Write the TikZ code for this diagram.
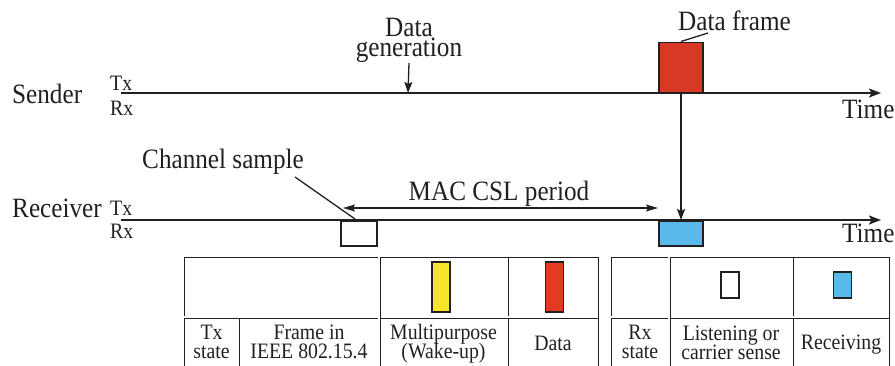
\documentclass[tikz,border=0pt]{standalone}
\usepackage{fontspec}
\setmainfont{Liberation Serif}[FakeStretch=0.9]
\usetikzlibrary{arrows.meta,positioning,calc}
\definecolor{ink}{RGB}{35,31,32}
\definecolor{framered}{RGB}{216,57,36}
\definecolor{keyred}{RGB}{228,58,34}
\definecolor{rxblue}{RGB}{91,184,234}
\definecolor{wakeyellow}{RGB}{246,228,46}
\lineskiplimit=-20pt
\tikzset{
	big/.style={inner sep=0pt, text=ink, font=\fontsize{28}{20}\selectfont},
	small/.style={inner sep=0pt, text=ink, align=center, font=\fontsize{22}{19}\selectfont},
	timeline/.style={draw=ink, line width=1.6pt, -{Stealth[length=12pt,width=9pt,inset=2.5pt]}},
	conn/.style={draw=ink, line width=1.3pt, -{Stealth[length=11pt,width=8pt,inset=2pt]}},
	period/.style={draw=ink, line width=1.3pt, {Stealth[length=12pt,width=7pt,inset=2pt]}-{Stealth[length=12pt,width=7pt,inset=2pt]}},
	lead/.style={draw=ink, line width=1.3pt},
	slot/.style={draw=ink, line width=1.5pt, inner sep=0pt, minimum width=44pt, minimum height=25pt},
	key/.style={draw=ink, line width=1.3pt, inner sep=0pt, minimum width=18pt},
	grid/.style={draw=ink, line width=1pt},
	dgrid/.style={draw=ink, line width=0.7pt, double, double distance=1.6pt}
}

\begin{document}
\begin{tikzpicture}[x=1pt, y=-1pt]
	\useasboundingbox (0,0) rectangle (895,365);

	% sender
	\node[big, anchor=base west] (snd) at (12,103) {Sender};
	\node[small, anchor=base west] (snd-tx) at (110,90) {Tx};
	\node[small, anchor=base west] (snd-rx) at (110,115) {Rx};
	\coordinate (snd-0) at (121,93);
	\coordinate (snd-1) at (881,93);
	\draw[timeline] (snd-0) -- (snd-1);
	\node[big, anchor=base west] (snd-time) at (842,118) {Time};
	\node[slot, fill=framered, minimum height=50pt, anchor=south] (frame) at (681,93) {};
	\node[big, anchor=base west] (dframe) at (678,30) {Data frame};
	\coordinate (dframe-l) at (708,33);
	\draw[lead] (frame.north) -- (dframe-l);
	\node[big, align=center, anchor=south] (gen) at (409,63) {Data\\generation};
	\coordinate (gen-t) at (408,93);
	\draw[conn] (gen.south) -- (gen-t);

	% receiver
	\node[big, anchor=base west] (rcv) at (12,217) {Receiver};
	\node[small, anchor=base west] (rcv-tx) at (110,215) {Tx};
	\node[small, anchor=base west] (rcv-rx) at (110,238) {Rx};
	\coordinate (rcv-0) at (121,220);
	\coordinate (rcv-1) at (881,220);
	\draw[timeline] (rcv-0) -- (rcv-1);
	\node[big, anchor=base west] (rcv-time) at (842,242) {Time};
	\node[slot, fill=white, minimum width=36pt, anchor=north] (sample) at (359,220) {};
	\node[slot, fill=rxblue, anchor=north] (rxbox) at (681,220) {};
	\node[big, anchor=base west] (chan) at (142,168) {Channel sample};
	\coordinate (chan-a) at (295,177);
	\coordinate (chan-b) at (355,219);
	\draw[lead] (chan-a) -- (chan-b);
	\coordinate (csl-a) at (343,208);
	\coordinate (csl-b) at (658,208);
	\draw[period] (csl-a) -- (csl-b);
	\node[big, anchor=base] (csl) at (499,200) {MAC CSL period};
	\draw[conn] (frame.south) -- (rxbox.north);

	% legend, Tx side
	\draw[grid] (184,366) -- (184,257) -- (598,257) -- (598,366);
	\draw[grid] (508,257) -- (508,366);
	\draw[grid] (239,317) -- (239,366);
	\draw[dgrid] (184,317) -- (598,317);
	\draw[dgrid] (379,257) -- (379,366);
	\node[key, fill=wakeyellow, minimum height=50pt] (k-wake) at (441,287) {};
	\node[key, fill=keyred, minimum height=50pt] (k-data) at (554.5,287) {};
	\node[small] (t-tx) at (211.5,342) {Tx\\state};
	\node[small] (t-frame) at (309,342) {Frame in\\IEEE 802.15.4};
	\node[small] (t-wake) at (443.5,344) {Multipurpose\\(Wake-up)};
	\node[small] (t-data) at (553,343) {Data};

	% legend, Rx side
	\draw[grid] (611,366) -- (611,257) -- (889,257) -- (889,366);
	\draw[grid] (793,257) -- (793,366);
	\draw[dgrid] (611,317) -- (889,317);
	\draw[dgrid] (669,257) -- (669,366);
	\node[key, fill=white, minimum height=26pt] (k-listen) at (730,285) {};
	\node[key, fill=rxblue, minimum height=26pt] (k-recv) at (842.5,285) {};
	\node[small] (t-rx) at (640,342) {Rx\\state};
	\node[small] (t-listen) at (731,343) {Listening or\\carrier sense};
	\node[small] (t-recv) at (841,345) {Receiving};
\end{tikzpicture}
\end{document}
